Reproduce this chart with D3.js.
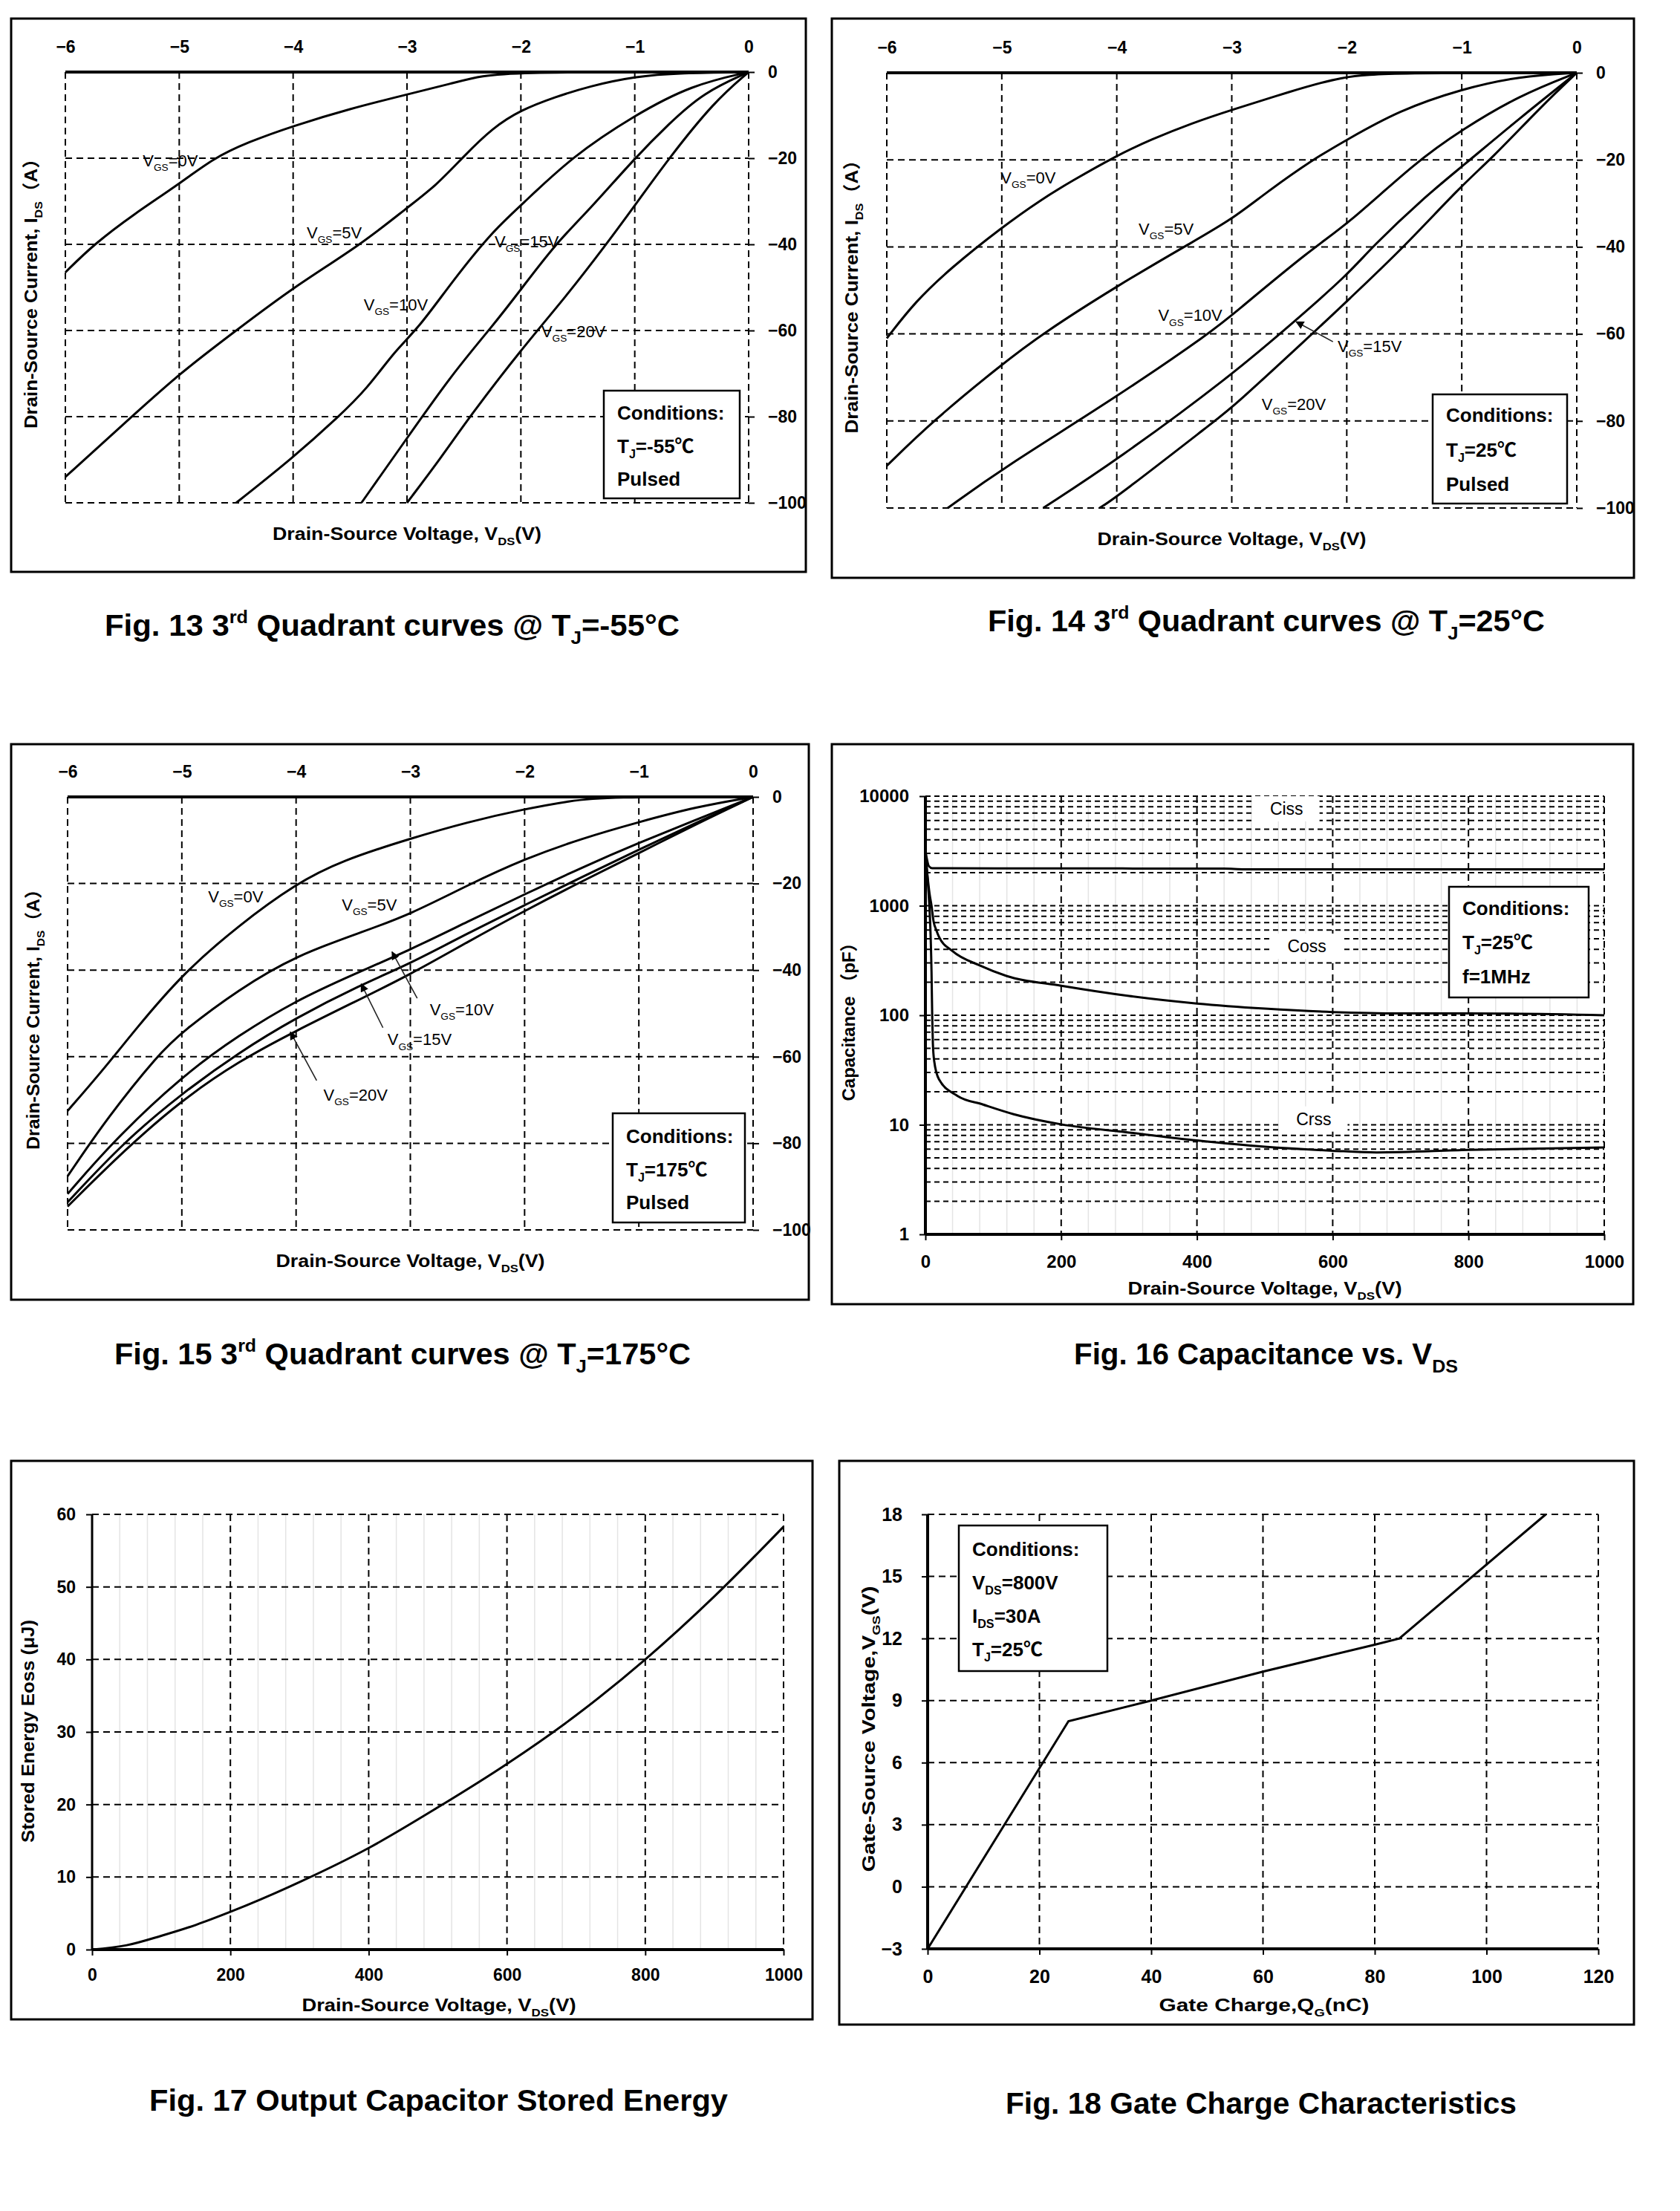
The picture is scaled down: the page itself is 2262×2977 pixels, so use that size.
<!DOCTYPE html>
<html lang="en">
<head>
<meta charset="UTF-8">
<title>Fig. 13 - 18 datasheet curves</title>
<script src="https://d3js.org/d3.v7.min.js"></script>
<style>
  body { margin: 0; background: #fff; }
  svg { display: block; }
</style>
</head>
<body>
<svg id="page" width="2262" height="2977"></svg>
<script>
// ---------- values ----------
const vdsTicks = [-6, -5, -4, -3, -2, -1, 0]
const idsTicks = [0, -20, -40, -60, -80, -100]
const vgsNames = ["V_{GS}=0V", "V_{GS}=5V", "V_{GS}=10V", "V_{GS}=15V", "V_{GS}=20V"]

// Fig 13, Tj = -55C   [Vds, Ids]
const f13_vgs0  = [[-6,-46.5],[-5.75,-40],[-5.4,-33],[-5,-26],[-4.7,-20],[-4.4,-16.3],[-4,-12.5],[-3.5,-8.5],[-3,-5.2],[-2.6,-2.6],[-2.35,-0.8],[-2,-0.1],[-1,0],[0,0]]
const f13_vgs5  = [[-6,-94],[-5.5,-82],[-5,-70],[-4.5,-60],[-4,-50],[-3.4,-40],[-3,-31.5],[-2.75,-26.5],[-2.5,-19.5],[-2.25,-13],[-2,-8.8],[-1.7,-5.8],[-1.4,-3.3],[-1,-1],[-0.6,-0.2],[0,0]]
const f13_vgs10 = [[-4.5,-100],[-4,-89.5],[-3.6,-80],[-3.35,-73.5],[-3.1,-64.5],[-2.9,-59.5],[-2.6,-48.5],[-2.25,-37],[-2,-31],[-1.55,-19.6],[-1,-10],[-0.5,-3],[0,0]]
const f13_vgs15 = [[-3.4,-100],[-3,-85],[-2.6,-70],[-2.25,-59],[-2,-50.5],[-1.7,-40],[-1.4,-32],[-1,-20],[-0.7,-12],[-0.4,-4.8],[0,0]]
const f13_vgs20 = [[-3,-100],[-2.7,-89.5],[-2.45,-80],[-2,-64.5],[-1.6,-52],[-1.25,-40],[-1,-31],[-0.7,-20],[-0.3,-6.8],[0,0]]

// Fig 14, Tj = 25C
const f14_vgs0  = [[-6,-61],[-5.75,-52.5],[-5.45,-45],[-5,-35.5],[-4.65,-29],[-4.4,-25],[-4,-19],[-3.7,-15.3],[-3.35,-11.6],[-3,-8.5],[-2.5,-4.4],[-2.05,-0.8],[-1.6,0],[0,0]]
const f14_vgs5  = [[-6,-90.3],[-5.6,-80],[-5,-67],[-4.65,-60],[-4,-49],[-3.35,-39],[-3,-33.7],[-2.7,-27.5],[-2.3,-20],[-2,-15.4],[-1.55,-8.7],[-1,-3.7],[-0.5,-0.8],[0,0]]
const f14_vgs10 = [[-5.47,-100],[-5,-91],[-4,-74.5],[-3.15,-59],[-3,-55.7],[-2.3,-40.3],[-2,-35],[-1.4,-20.5],[-1,-13.1],[-0.5,-5.2],[0,0]]
const f14_vgs15 = [[-4.64,-100],[-4,-89],[-3,-69.5],[-2.45,-57],[-2,-46.6],[-1.78,-40],[-1.33,-28.7],[-1,-21.6],[-0.5,-10.5],[0,0]]
const f14_vgs20 = [[-4.15,-100],[-4,-97.5],[-3.1,-79],[-3,-77],[-2.3,-60],[-2,-52.5],[-1.5,-40],[-1,-25.8],[-0.75,-20],[-0.3,-7.5],[0,0]]

// Fig 15, Tj = 175C
const f15_vgs0  = [[-6,-72.5],[-5.7,-63.4],[-5.4,-53.5],[-5,-41],[-4.5,-29.6],[-4,-20],[-3.6,-14.7],[-3,-9.6],[-2.5,-5.8],[-2,-2.8],[-1.6,-0.9],[-1.3,0],[0,0]]
const f15_vgs5  = [[-6,-87.6],[-5.65,-74],[-5.2,-59.3],[-5,-54.3],[-4.5,-44.4],[-4,-36.6],[-3.4,-31],[-3,-27.1],[-2.5,-20.4],[-2,-14.3],[-1.5,-9.6],[-1,-5.8],[-0.5,-2.3],[0,0]]
const f15_vgs10 = [[-6,-91.7],[-5.6,-79.5],[-5,-64.5],[-4.5,-55],[-4,-47],[-3.5,-41],[-3,-35.3],[-2.5,-28.8],[-2,-22.5],[-1.5,-16.3],[-1,-10.6],[-0.5,-5.3],[0,0]]
const f15_vgs15 = [[-6,-93.6],[-5.5,-79.5],[-5,-68.5],[-4.5,-59],[-4,-51],[-3.45,-43.6],[-3,-38.5],[-2.5,-31.5],[-2,-25],[-1.5,-18.5],[-1,-12.2],[-0.5,-6],[0,0]]
const f15_vgs20 = [[-6,-94.6],[-5.5,-81.5],[-5,-70],[-4.5,-61],[-4,-54],[-3.5,-47.5],[-3,-41],[-2.5,-33.5],[-2,-26.3],[-1.5,-19.5],[-1,-13],[-0.5,-6.3],[0,0]]

// Fig 16, capacitance [Vds, pF]
const capXTicks = [0, 200, 400, 600, 800, 1000]
const capYTicks = [1, 10, 100, 1000, 10000]
const ciss = [[0,3200],[2,2700],[5,2300],[10,2200],[200,2190],[440,2180],[470,2150],[1000,2150]]
const coss = [[0,3000],[3,1900],[6,1300],[9,1000],[12,720],[16,600],[20,520],[40,385],[80,285],[120,228],[200,186],[300,150],[400,128],[500,115],[600,107],[700,104],[800,104],[1000,100]]
const crss = [[0,3000],[4,1500],[7,700],[9,250],[10,100],[11,55],[13,38],[20,26],[47,18.4],[85,15.3],[130,12.5],[200,10.1],[300,8.5],[400,7.2],[500,6.3],[600,5.8],[665,5.6],[800,5.9],[1000,6.2]]

// Fig 17, Eoss [Vds, uJ]
const eossXTicks = [0, 200, 400, 600, 800, 1000]
const eossYTicks = [0, 10, 20, 30, 40, 50, 60]
const eoss = [[0,0],[50,0.6],[100,1.9],[150,3.4],[200,5.2],[300,9.3],[400,14],[500,19.6],[600,25.6],[700,32.3],[800,40],[900,48.7],[1000,58.3]]

// Fig 18, gate charge [nC, V]
const qgXTicks = [0, 20, 40, 60, 80, 100, 120]
const qgYTicks = [-3, 0, 3, 6, 9, 12, 15, 18]
const gateCharge = [[0,-3],[25.2,8],[40,9],[60,10.4],[80,11.7],[84.4,12],[110.6,18]]

// ---------- drawing ----------
const FONT = '"Liberation Sans", Arial, "Noto Sans CJK SC", sans-serif'
const svg = d3.select("#page").attr("font-family", FONT)

svg.append("defs").append("marker")
  .attr("id", "arr").attr("viewBox", "0 0 10 10").attr("refX", 9).attr("refY", 5)
  .attr("markerWidth", 7).attr("markerHeight", 7).attr("orient", "auto")
  .append("path").attr("d", "M0,0 L10,5 L0,10 z").attr("fill", "#000")

// text with _{sub} and ^{sup} parts
function rich(t, str, size) {
  const parts = str.split(/(_\{[^}]*\}|\^\{[^}]*\})/).filter(s => s !== "")
  let shift = 0
  for (const p of parts) {
    let s = p, target = 0, fs = size
    if (p.startsWith("_{")) { s = p.slice(2, -1); target = size * 0.28; fs = size * 0.62 }
    else if (p.startsWith("^{")) { s = p.slice(2, -1); target = -size * 0.42; fs = size * 0.6 }
    const ts = t.append("tspan").attr("font-size", fs).text(s)
    if (target - shift !== 0) ts.attr("dy", target - shift)
    shift = target
  }
  return t
}

function txt(g, x, y, str, size, o = {}) {
  const t = g.append("text").attr("x", x).attr("y", y).attr("font-size", size)
    .attr("font-weight", o.bold ? "bold" : "normal")
    .attr("text-anchor", o.anchor || "start").attr("fill", "#000")
  if (o.len) t.attr("textLength", o.len).attr("lengthAdjust", "spacingAndGlyphs")
  if (o.rotate) t.attr("transform", `rotate(-90,${x},${y})`)
  return rich(t, str, size)
}

function frame(g, x0, y0, x1, y1) {
  g.append("rect").attr("x", x0).attr("y", y0).attr("width", x1 - x0).attr("height", y1 - y0)
    .attr("fill", "none").attr("stroke", "#000").attr("stroke-width", 3)
}

function condBox(g, box, lines, first, step) {
  g.append("rect").attr("x", box[0]).attr("y", box[1]).attr("width", box[2] - box[0]).attr("height", box[3] - box[1])
    .attr("fill", "#fff").attr("stroke", "#000").attr("stroke-width", 2.5)
  lines.forEach((l, i) => txt(g, box[0] + 18, box[1] + first + i * step, l, 26, { bold: true }))
}

function styleAxis(a, size) {
  a.attr("font-family", FONT).attr("font-size", size).attr("font-weight", "bold")
  a.select(".domain").remove()
  a.selectAll("line").attr("stroke", "#000").attr("stroke-width", 2)
  a.selectAll("text").attr("fill", "#000")
}

function vline(g, x, y0, y1, dash, w = 2, col = "#000") {
  const l = g.append("line").attr("x1", x).attr("x2", x).attr("y1", y0).attr("y2", y1)
    .attr("stroke", col).attr("stroke-width", w)
  if (dash) l.attr("stroke-dasharray", dash)
}
function hline(g, y, x0, x1, dash, w = 2, col = "#000") {
  const l = g.append("line").attr("x1", x0).attr("x2", x1).attr("y1", y).attr("y2", y)
    .attr("stroke", col).attr("stroke-width", w)
  if (dash) l.attr("stroke-dasharray", dash)
}

// ----- 3rd quadrant panels -----
function quadPanel(o) {
  const g = svg.append("g")
  frame(g, ...o.frame)
  const x = d3.scaleLinear().domain([-6, 0]).range([o.px0, o.px1])
  const y = d3.scaleLinear().domain([0, -100]).range([o.py0, o.py1])

  vdsTicks.forEach(v => vline(g, x(v), y(0), y(-100), "9,6"))
  idsTicks.slice(1).forEach(v => hline(g, y(v), x(-6), x(0), "9,6"))
  hline(g, y(0), x(-6), x(0), null, 4)

  const top = g.append("g").attr("transform", `translate(0,${y(0)})`)
    .call(d3.axisTop(x).tickValues(vdsTicks).tickSize(0).tickPadding(26).tickFormat(d3.format("d")))
  styleAxis(top, 23)
  const right = g.append("g").attr("transform", `translate(${x(0)},0)`)
    .call(d3.axisRight(y).tickValues(idsTicks).tickSize(8).tickPadding(18).tickFormat(d3.format("d")))
  styleAxis(right, 23)

  const line = d3.line().x(d => x(d[0])).y(d => y(d[1])).curve(d3.curveBasis)
  g.selectAll("path.curve").data(o.curves).join("path").attr("class", "curve")
    .attr("d", line).attr("fill", "none").attr("stroke", "#000").attr("stroke-width", 3)

  o.labels.forEach((p, i) => txt(g, x(p[0]), y(p[1]) + 8, vgsNames[i], 22))
  ;(o.arrows || []).forEach(a => g.append("line")
    .attr("x1", x(a[0])).attr("y1", y(a[1])).attr("x2", x(a[2])).attr("y2", y(a[3]))
    .attr("stroke", "#222").attr("stroke-width", 1.6).attr("marker-end", "url(#arr)"))

  condBox(g, o.cond, o.condLines, o.condFirst, o.condStep)
  txt(g, (o.px0 + o.px1) / 2, o.py1 + 50, "Drain-Source Voltage, V_{DS}(V)", 24, { bold: true, anchor: "middle", len: 362 })
  txt(g, o.ytx, (o.py0 + o.py1) / 2 + 2, "Drain-Source Current, I_{DS}（A）", 24, { bold: true, anchor: "middle", len: o.ylen, rotate: true })
  txt(g, o.cap[0], o.cap[1], o.capText, 40, { bold: true, len: o.cap[2] })
}

quadPanel({
  frame: [15, 25, 1085, 770], px0: 88, px1: 1008, py0: 97, py1: 677,
  curves: [f13_vgs0, f13_vgs5, f13_vgs10, f13_vgs15, f13_vgs20],
  labels: [[-5.32, -20.5], [-3.88, -37.2], [-3.38, -53.9], [-2.23, -39.3], [-1.82, -60.2]],
  cond: [813, 526, 996, 671], condLines: ["Conditions:", "T_{J}=-55℃", "Pulsed"], condFirst: 39, condStep: 44.5,
  ytx: 50, ylen: 376,
  cap: [141, 856, 774], capText: "Fig. 13 3^{rd} Quadrant curves @ T_{J}=-55°C"
})

quadPanel({
  frame: [1120, 25, 2200, 778], px0: 1194, px1: 2123, py0: 98, py1: 684,
  curves: [f14_vgs0, f14_vgs5, f14_vgs10, f14_vgs15, f14_vgs20],
  labels: [[-5.01, -24.1], [-3.81, -35.8], [-3.64, -55.7], [-2.08, -62.8], [-2.74, -76.1]],
  arrows: [[-2.12, -61.8, -2.44, -57.2]],
  cond: [1929, 531, 2110, 678], condLines: ["Conditions:", "T_{J}=25℃", "Pulsed"], condFirst: 37, condStep: 46.5,
  ytx: 1155, ylen: 381,
  cap: [1330, 850, 750], capText: "Fig. 14 3^{rd} Quadrant curves @ T_{J}=25°C"
})

quadPanel({
  frame: [15, 1002, 1089, 1750], px0: 91, px1: 1014, py0: 1073, py1: 1656,
  curves: [f15_vgs0, f15_vgs5, f15_vgs10, f15_vgs15, f15_vgs20],
  labels: [[-4.77, -23], [-3.6, -24.8], [-2.83, -49], [-3.2, -56], [-3.76, -68.8]],
  arrows: [[-2.94, -46.5, -3.16, -35.8], [-3.24, -53.3, -3.43, -43.2], [-3.82, -65.5, -4.05, -54.3]],
  cond: [825, 1499, 1003, 1646], condLines: ["Conditions:", "T_{J}=175℃", "Pulsed"], condFirst: 40, condStep: 44.5,
  ytx: 53, ylen: 363,
  cap: [154, 1837, 776], capText: "Fig. 15 3^{rd} Quadrant curves @ T_{J}=175°C"
})

// ----- Fig 16 capacitance -----
{
  const g = svg.append("g")
  frame(g, 1120, 1002, 2199, 1756)
  const x = d3.scaleLinear().domain([0, 1000]).range([1246, 2160])
  const y = d3.scaleLog().domain([1, 10000]).range([1662, 1072])

  d3.range(40, 1000, 40).filter(v => v % 200).forEach(v => vline(g, x(v), y(10000), y(1), null, 1.5, "#e4e4e4"))
  y.ticks().filter(v => v > 1).forEach(v => hline(g, y(v), x(0), x(1000), "7,5"))
  capXTicks.slice(1).forEach(v => vline(g, x(v), y(10000), y(1), "9,6"))
  vline(g, x(0), y(10000), y(1), null, 4)
  hline(g, y(1), x(0), x(1000), null, 4)

  const ax = g.append("g").attr("transform", `translate(0,${y(1)})`)
    .call(d3.axisBottom(x).tickValues(capXTicks).tickSize(8).tickPadding(20).tickFormat(d3.format("d")))
  styleAxis(ax, 24)
  const ay = g.append("g").attr("transform", `translate(${x(0)},0)`)
    .call(d3.axisLeft(y).tickValues(capYTicks).tickSize(8).tickPadding(14).tickFormat(d3.format("d")))
  styleAxis(ay, 24)

  const line = d3.line().x(d => x(d[0])).y(d => y(d[1])).curve(d3.curveMonotoneX)
  g.selectAll("path.curve").data([ciss, coss, crss]).join("path").attr("class", "curve")
    .attr("d", line).attr("fill", "none").attr("stroke", "#000").attr("stroke-width", 3)

  const capNames = ["Ciss", "Coss", "Crss"]
  const capLab = [[532, 7670], [562, 427], [572, 11.3]]
  capLab.forEach((p, i) => {
    const t = txt(g, x(p[0]), y(p[1]) + 8, capNames[i], 23, { anchor: "middle" })
    const b = t.node().getBBox()
    g.insert("rect", () => t.node()).attr("x", b.x - 22).attr("y", b.y - 4)
      .attr("width", b.width + 44).attr("height", b.height + 8).attr("fill", "#fff")
  })

  condBox(g, [1951, 1194, 2139, 1343], ["Conditions:", "T_{J}=25℃", "f=1MHz"], 38, 46)
  txt(g, 1703, 1743, "Drain-Source Voltage, V_{DS}(V)", 24, { bold: true, anchor: "middle", len: 369 })
  txt(g, 1151, 1370, "Capacitance （pF）", 24, { bold: true, anchor: "middle", len: 225, rotate: true })
  txt(g, 1446, 1837, "Fig. 16 Capacitance vs. V_{DS}", 40, { bold: true, len: 517 })
}

// ----- Fig 17 Eoss -----
{
  const g = svg.append("g")
  frame(g, 15, 1967, 1094, 2719)
  const x = d3.scaleLinear().domain([0, 1000]).range([124, 1055])
  const y = d3.scaleLinear().domain([0, 60]).range([2625, 2039])

  d3.range(40, 1000, 40).filter(v => v % 200).forEach(v => vline(g, x(v), y(60), y(0), null, 1.5, "#e4e4e4"))
  eossYTicks.slice(1).forEach(v => hline(g, y(v), x(0), x(1000), "9,6"))
  eossXTicks.slice(1).forEach(v => vline(g, x(v), y(60), y(0), "9,6"))
  vline(g, x(0), y(60), y(0), null, 3)
  hline(g, y(0), x(0), x(1000), null, 4)

  const ax = g.append("g").attr("transform", `translate(0,${y(0)})`)
    .call(d3.axisBottom(x).tickValues(eossXTicks).tickSize(8).tickPadding(18).tickFormat(d3.format("d")))
  styleAxis(ax, 23)
  const ay = g.append("g").attr("transform", `translate(${x(0)},0)`)
    .call(d3.axisLeft(y).tickValues(eossYTicks).tickSize(8).tickPadding(14).tickFormat(d3.format("d")))
  styleAxis(ay, 23)

  const line = d3.line().x(d => x(d[0])).y(d => y(d[1])).curve(d3.curveMonotoneX)
  g.append("path").datum(eoss).attr("d", line).attr("fill", "none").attr("stroke", "#000").attr("stroke-width", 3)

  txt(g, 591, 2708, "Drain-Source Voltage, V_{DS}(V)", 24, { bold: true, anchor: "middle", len: 369 })
  txt(g, 46, 2331, "Stored Energy Eoss (μJ)", 24, { bold: true, anchor: "middle", len: 300, rotate: true })
  txt(g, 201, 2842, "Fig. 17 Output Capacitor Stored Energy", 40, { bold: true, len: 779 })
}

// ----- Fig 18 gate charge -----
{
  const g = svg.append("g")
  frame(g, 1130, 1967, 2200, 2726)
  const x = d3.scaleLinear().domain([0, 120]).range([1249, 2152])
  const y = d3.scaleLinear().domain([-3, 18]).range([2624, 2039])

  qgYTicks.slice(1).forEach(v => hline(g, y(v), x(0), x(120), "9,6"))
  qgXTicks.slice(1).forEach(v => vline(g, x(v), y(18), y(-3), "9,6"))
  vline(g, x(0), y(18), y(-3), null, 4)
  hline(g, y(-3), x(0), x(120), null, 4)

  const ax = g.append("g").attr("transform", `translate(0,${y(-3)})`)
    .call(d3.axisBottom(x).tickValues(qgXTicks).tickSize(8).tickPadding(20).tickFormat(d3.format("d")))
  styleAxis(ax, 25)
  const ay = g.append("g").attr("transform", `translate(${x(0)},0)`)
    .call(d3.axisLeft(y).tickValues(qgYTicks).tickSize(8).tickPadding(26).tickFormat(d3.format("d")))
  styleAxis(ay, 25)

  const line = d3.line().x(d => x(d[0])).y(d => y(d[1]))
  g.append("path").datum(gateCharge).attr("d", line).attr("fill", "none").attr("stroke", "#000").attr("stroke-width", 3)

  condBox(g, [1291, 2054, 1491, 2250], ["Conditions:", "V_{DS}=800V", "I_{DS}=30A", "T_{J}=25℃"], 41, 45)
  txt(g, 1702, 2708, "Gate Charge,Q_{G}(nC)", 24, { bold: true, anchor: "middle", len: 283 })
  txt(g, 1178, 2328, "Gate-Source Voltage,V_{GS}(V)", 24, { bold: true, anchor: "middle", len: 385, rotate: true })
  txt(g, 1354, 2846, "Fig. 18 Gate Charge Characteristics", 40, { bold: true, len: 688 })
}
</script>
</body>
</html>
